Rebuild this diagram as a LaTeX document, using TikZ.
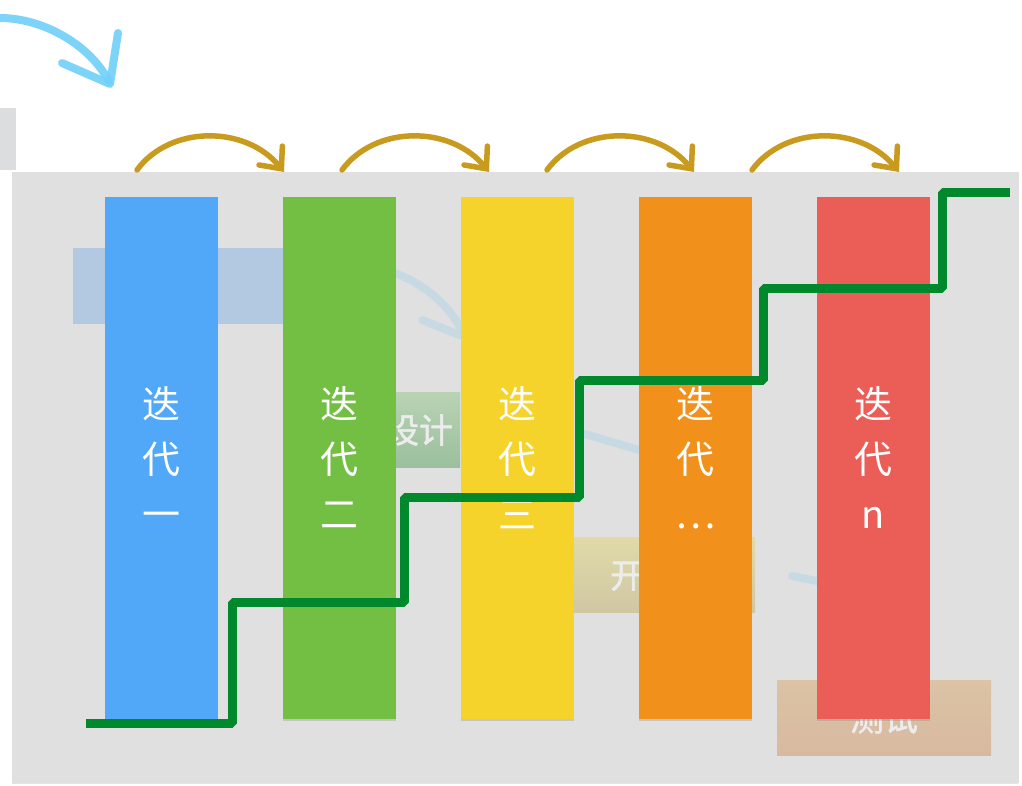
\documentclass[tikz,border=0pt]{standalone}
\usepackage{fontspec}
\newfontfamily\cjk{Noto Sans CJK SC}
\newfontfamily\cjkbold[FakeBold=1.5]{Noto Sans CJK SC}
\usetikzlibrary{arrows.meta,shadows}
\definecolor{panelgray}{HTML}{E0E0E0}
\definecolor{sidegray}{HTML}{DCDDDF}
\definecolor{barblue}{HTML}{51A8F9}
\definecolor{bargreen}{HTML}{72BF44}
\definecolor{baryellow}{HTML}{F6D32B}
\definecolor{barorange}{HTML}{F1901B}
\definecolor{barred}{HTML}{EB5E58}
\definecolor{stairgreen}{HTML}{00892C}
\definecolor{gold}{HTML}{C89B1E}
\definecolor{sketchblue}{HTML}{6FD0F8}
\definecolor{faintblue}{HTML}{BFD9E6}
\definecolor{boxtext}{HTML}{ECECEC}
\definecolor{reqblue}{HTML}{B3C9E1}
\tikzset{
  panel/.style={fill=panelgray, draw=black!12, line width=0.6pt, inner sep=0pt,
    drop shadow={shadow xshift=0pt, shadow yshift=-1.5pt, opacity=0.22}},
  iterbar/.style={minimum width=113pt, minimum height=522pt, inner sep=0pt,
    text=white, align=center, font=\cjk\fontsize{38}{55}\selectfont,
    drop shadow={shadow xshift=0pt, shadow yshift=-2pt, opacity=0.28}},
  fadedbox/.style={minimum height=75pt, inner sep=0pt, text=boxtext,
    font=\cjkbold\fontsize{34}{40}\selectfont},
  hop/.style={draw=gold, line width=5.5pt, line cap=round,
    -{Straight Barb[length=17pt, width=30pt, line cap=round]}},
  stairs/.style={draw=stairgreen, line width=9pt, line join=bevel},
  faint/.style={draw=faintblue, line width=8pt, line cap=round, opacity=0.75},
  sketch/.style={draw=sketchblue, line width=8pt, line cap=round, line join=round, opacity=0.9}
}
\begin{document}
\begin{tikzpicture}[x=1pt, y=-1pt]
\useasboundingbox (0,0) rectangle (1022,786);
\fill[white] (0,0) rectangle (1022,786);

% sketch arrow at top left
\draw[sketch] (0,18) .. controls (45,18) and (92,47) .. (109,82);
\draw[sketch] (118,33) -- (110,84) -- (62,63);

% side grey strip
\node[fill=sidegray, minimum width=16pt, minimum height=62pt, inner sep=0pt] (side) at (8,139) {};

% main panel
\node[panel, minimum width=1006pt, minimum height=610pt] (panel) at (515,477) {};

% faint sketch arrows behind the bars
\draw[faint] (392,272) .. controls (420,282) and (445,300) .. (462,330);
\draw[faint] (422,320) -- (462,336);
\draw[faint] (585,434) .. controls (605,440) and (625,446) .. (660,456);
\draw[faint] (792,576) -- (822,582);

% faded phase boxes
\node[fadedbox, fill=reqblue, minimum width=220pt] (req) at (183,286) {需求};
\node[fadedbox, top color={rgb,255:red,184;green,211;blue,179}, bottom color={rgb,255:red,155;green,191;blue,158}, minimum width=82pt] (des) at (419,430) {设计};
\node[fadedbox, top color={rgb,255:red,224;green,218;blue,168}, bottom color={rgb,255:red,208;green,199;blue,163}, minimum width=222pt] (dev) at (644,575) {开发};
\node[fadedbox, top color={rgb,255:red,219;green,195;blue,165}, bottom color={rgb,255:red,216;green,185;blue,160}, minimum width=214pt] (tst) at (884,718) {测试};

% iteration bars
\node[iterbar, fill=barblue]   (it1) at (161.5,458) {迭\\代\\一};
\node[iterbar, fill=bargreen]  (it2) at (339.5,458) {迭\\代\\二};
\node[iterbar, fill=baryellow] (it3) at (517.5,458) {迭\\代\\三};
\node[iterbar, fill=barorange] (it4) at (695.5,458) {迭\\代\\…};
\node[iterbar, fill=barred]    (it5) at (873.5,458) {迭\\代\\n};

% hop arrows above the bars
\coordinate (h1s) at (137,170); \coordinate (h1e) at (284,172);
\coordinate (h2s) at (342,170); \coordinate (h2e) at (489,172);
\coordinate (h3s) at (547,170); \coordinate (h3e) at (694,172);
\coordinate (h4s) at (752,170); \coordinate (h4e) at (899,172);
\draw[hop] (h1s) .. controls ++(33,-45) and ++(-38,-47) .. (h1e);
\draw[hop] (h2s) .. controls ++(33,-45) and ++(-38,-47) .. (h2e);
\draw[hop] (h3s) .. controls ++(33,-45) and ++(-38,-47) .. (h3e);
\draw[hop] (h4s) .. controls ++(33,-45) and ++(-38,-47) .. (h4e);

% staircase line
\coordinate (s0) at (86,723);
\coordinate (s1) at (1010,193);
\draw[stairs] (s0) -- (232,723) -- (232,602) -- (404,602) -- (404,497)
  -- (579,497) -- (579,380) -- (763,380) -- (763,288) -- (942,288)
  -- (942,193) -- (s1);
\end{tikzpicture}
\end{document}
